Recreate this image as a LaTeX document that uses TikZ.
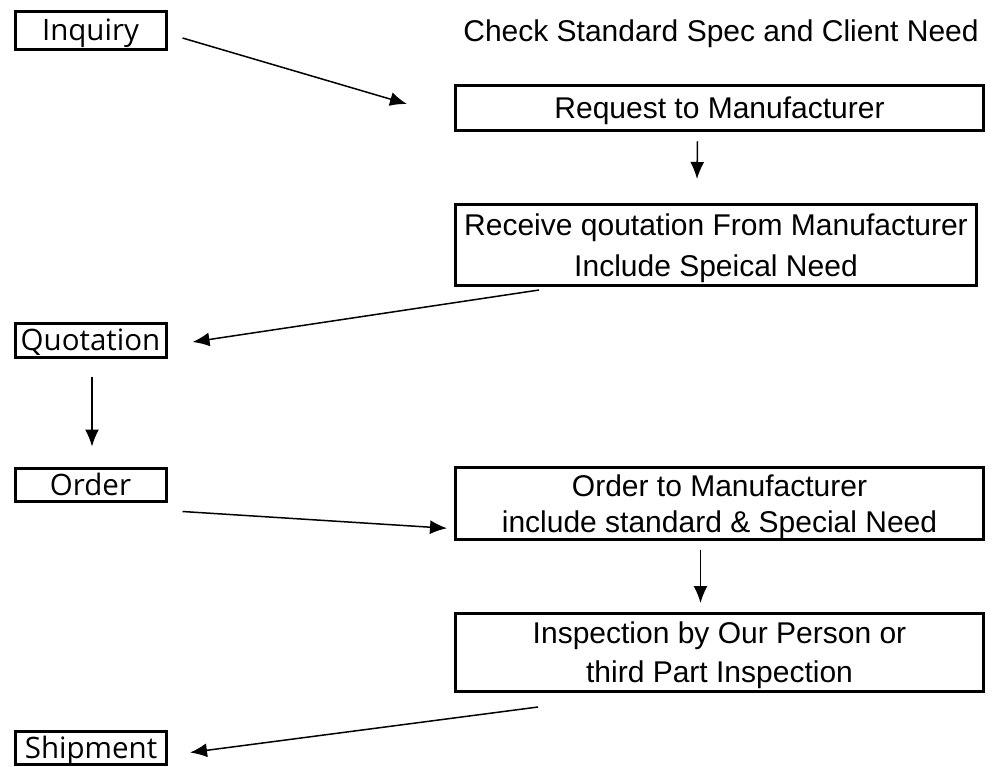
\documentclass[tikz,border=0pt]{standalone}
\usepackage{fontspec}
\setmainfont{Liberation Sans}
\newfontfamily\labelfont{Open Sans}
\usetikzlibrary{arrows.meta}
\begin{document}
\begin{tikzpicture}[x=1pt,y=-1pt,
	bigbox/.style={draw,line width=3pt,inner sep=0pt,align=center,minimum width=528pt,text depth=0pt,font=\fontsize{30}{38}\selectfont},
	smallbox/.style={draw,line width=3pt,inner sep=0pt,minimum width=151pt,text depth=0pt,font=\labelfont\fontsize{29.5}{34}\selectfont},
	flow/.style={-{Latex[length=17pt,width=14pt]},line width=1.5pt}]
\useasboundingbox (0,0) rectangle (993,766);
% left column
\node (inquiry) [smallbox,minimum height=38pt] at (90.5,30) {Inquiry};
\node (quotation) [smallbox,minimum height=34pt] at (90.5,340) {Quotation};
\node (order) [smallbox,minimum height=33pt] at (90.5,484.5) {Order};
\node (shipment) [smallbox,minimum height=33pt] at (91,747.5) {Shipment};
% right column
\node (check) [text depth=0pt,font=\fontsize{30}{38}\selectfont] at (721,31) {Check Standard Spec and Client Need};
\node (request) [bigbox,minimum height=45.5pt] at (719.5,108) {Request to Manufacturer};
\node (receive) [bigbox,minimum width=521pt,minimum height=81pt,font=\fontsize{30}{41}\selectfont] at (716,245) {Receive qoutation From Manufacturer\\Include Speical Need};
\node (orderto) [bigbox,minimum height=72.5pt,font=\fontsize{30}{36}\selectfont] at (719.5,503.5) {Order to Manufacturer\\include standard \& Special Need};
\node (inspection) [bigbox,minimum height=78pt,font=\fontsize{30}{39}\selectfont] at (719.5,652.5) {Inspection by Our Person or\\third Part Inspection};
% arrows
\draw [flow] ([xshift=15pt,yshift=-8pt]inquiry.east) -- ([xshift=-47pt,yshift=4pt]request.west);
\draw [flow] ([xshift=-22pt,yshift=-9pt]request.south) -- ([xshift=-19pt,yshift=24pt]receive.north);
\draw [flow] ([xshift=85pt,yshift=-3pt]receive.south west) -- ([xshift=25pt,yshift=-2pt]quotation.east);
\draw [flow] ([xshift=1.5pt,yshift=-18pt]quotation.south) -- ([xshift=1.5pt,yshift=20pt]order.north);
\draw [flow] ([xshift=15pt,yshift=-9pt]order.south east) -- ([xshift=-7pt,yshift=13pt]orderto.south west);
\draw [flow] ([xshift=-19pt,yshift=-9pt]orderto.south) -- ([xshift=-19pt,yshift=9pt]inspection.north);
\draw [flow] ([xshift=84pt,yshift=-14pt]inspection.south west) -- ([xshift=22pt,yshift=-5pt]shipment.east);
\end{tikzpicture}
\end{document}
